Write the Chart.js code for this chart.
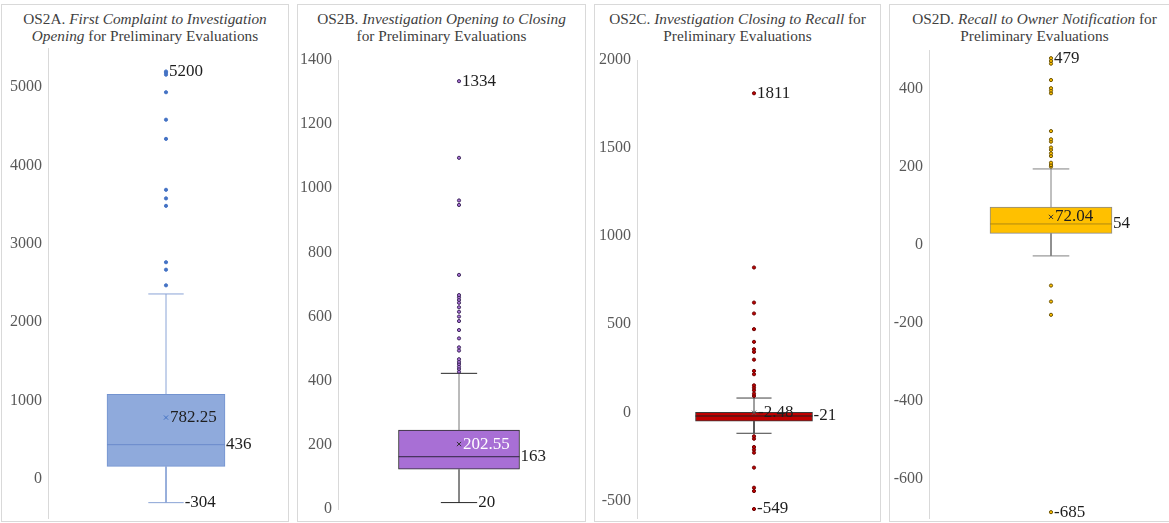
<!DOCTYPE html>
<html>
<head>
<meta charset="utf-8">
<script src="https://cdn.jsdelivr.net/npm/chart.js@4.4.1/dist/chart.umd.min.js"></script>
<style>
  html, body { margin: 0; padding: 0; background: #fff; width: 1169px; height: 523px; overflow: hidden; }
  .panel { position: absolute; top: 4px; height: 518px; border: 1px solid #d9d9d9; box-sizing: border-box; }
  .title { position: absolute; left: 0; right: 0; top: 5px; text-align: center; font: 15.3px "Liberation Serif", serif; line-height: 17px; color: #404040; white-space: nowrap; }
  canvas.plot { position: absolute; top: 0; }
</style>
</head>
<body>
<script>
// data, one slot per panel (A, B, C, D)
const panelTitles = [
  'OS2A. <i>First Complaint to Investigation</i><br><i>Opening</i> for Preliminary Evaluations',
  'OS2B. <i>Investigation Opening to Closing</i><br>for Preliminary Evaluations',
  'OS2C. <i>Investigation Closing to Recall</i> for<br>Preliminary Evaluations',
  'OS2D. <i>Recall to Owner Notification</i> for<br>Preliminary Evaluations'
];
const quartile1 = [160, 124, -50, 30];
const medians = [436, 163, -21, 54];
const quartile3 = [1080, 246, 0, 97];
const means = [782.25, 202.55, -2.48, 72.04];
const whiskerLow = [-304, 20, -119, -28];
const whiskerHigh = [2360, 423, 81, 195];

const outliersA = [2470, 2670, 2765, 3485, 3580, 3690, 4340, 4585, 4935, 5160, 5185, 5200];
const outliersB = [428, 437, 444, 452, 459, 467, 494, 504, 532, 558, 586, 600, 615, 629, 643, 652, 660, 667, 730, 948, 962, 1095, 1334];
const outliersC = [-549, -447, -428, -314, -229, -212, -197, -150, -136, 93, 106, 125, 140, 153, 216, 235, 299, 343, 358, 400, 472, 561, 623, 822, 1811];
const outliersD = [-685, -179, -145, -104, 201, 205, 211, 228, 235, 244, 250, 265, 271, 292, 389, 396, 402, 423, 465, 472, 479];
const outliers = [outliersA, outliersB, outliersC, outliersD];

const axisMin = [-500, 0, -600, -700];
const axisMax = [5500, 1400, 2000, 500];
const tickValues = [
  [0, 1000, 2000, 3000, 4000, 5000],
  [0, 200, 400, 600, 800, 1000, 1200, 1400],
  [-500, 0, 500, 1000, 1500, 2000],
  [-600, -400, -200, 0, 200, 400]
];

// looks
const boxFill = ['#8faadc', '#a86fd5', '#c00000', '#ffc000'];
const boxEdge = ['#7393cf', '#2b2b2b', '#3a3a3a', '#8a8a8a'];
const medianColor = ['#6a8acb', '#2e2440', '#1e1e1e', '#b08a10'];
const whiskerColor = ['#8aa4d6', '#777777', '#404040', '#808080'];
const capColor = ['#8aa4d6', '#262626', '#404040', '#808080'];
const dotFill = ['#4472c4', '#a86fd5', '#c00000', '#ffc000'];
const dotEdge = ['#4472c4', '#3f2a5c', '#6b0000', '#6b5200'];
const meanColor = ['#4472c4', '#333333', '#555555', '#333333'];
const meanText = ['#1e1e1e', '#ffffff', '#1e1e1e', '#1e1e1e'];

// geometry (page px)
const panelLeft = [1, 297, 594, 889];
const panelWidth = [288, 289, 287, 291];
const axisX = [48, 338, 637, 929];
const plotRight = [284, 580, 871, 1173];
const plotTop = [48, 60, 60, 50];
const plotBottom = [518, 509, 518, 518];

const labelPlugin = {
  id: 'boxLabels',
  afterDatasetsDraw(chart, args, opts) {
    const i = opts.index;
    const ctx = chart.ctx;
    const xs = chart.scales.x, ys = chart.scales.y;
    const cx = xs.getPixelForValue(0);
    const list = outliers[i];
    const top = Math.max(whiskerHigh[i], ...list);
    const bottom = Math.min(whiskerLow[i], ...list);
    ctx.save();
    ctx.font = '17px "Liberation Serif"';
    ctx.textBaseline = 'middle';
    ctx.textAlign = 'left';
    const put = (t, x, v, c) => { ctx.fillStyle = c; ctx.fillText(t, x, ys.getPixelForValue(v)); };
    put(String(top), top === whiskerHigh[i] ? xs.getPixelForValue(0.15) + 1 : cx + 3, top, '#1e1e1e');
    put(String(bottom), bottom === whiskerLow[i] ? xs.getPixelForValue(0.15) + 1 : cx + 3, bottom, '#1e1e1e');
    put(String(means[i]), cx + 4, means[i], meanText[i]);
    put(String(medians[i]), xs.getPixelForValue(0.5) + 1, medians[i], '#1e1e1e');
    ctx.restore();
  }
};

function segment(x0, y0, x1, y1, color, order) {
  return {
    type: 'line', order: order,
    data: [{x: x0, y: y0}, {x: x1, y: y1}],
    borderColor: color, borderWidth: 1, pointRadius: 0, fill: false
  };
}

for (let i = 0; i < 4; i++) {
  const panel = document.createElement('div');
  panel.className = 'panel';
  panel.style.left = panelLeft[i] + 'px';
  panel.style.width = panelWidth[i] + 'px';
  const title = document.createElement('div');
  title.className = 'title';
  title.innerHTML = panelTitles[i];
  panel.appendChild(title);
  document.body.appendChild(panel);

  const canvas = document.createElement('canvas');
  canvas.className = 'plot';
  canvas.width = panelWidth[i];
  canvas.height = 523;
  canvas.style.left = panelLeft[i] + 'px';
  document.body.appendChild(canvas);

  const axisW = axisX[i] - panelLeft[i];
  const boxWidth = (plotRight[i] - axisX[i]) / 2;
  new Chart(canvas, {
    type: 'bar',
    data: {
      datasets: [
        {
          type: 'bar', order: 6,
          data: [{x: 0, y: [quartile1[i], quartile3[i]]}],
          backgroundColor: boxFill[i], borderColor: boxEdge[i], borderWidth: 1, borderSkipped: false,
          barThickness: boxWidth
        },
        segment(0, quartile3[i], 0, whiskerHigh[i], whiskerColor[i], 5),
        segment(0, quartile1[i], 0, whiskerLow[i], whiskerColor[i], 5),
        segment(-0.15, whiskerHigh[i], 0.15, whiskerHigh[i], capColor[i], 4),
        segment(-0.15, whiskerLow[i], 0.15, whiskerLow[i], capColor[i], 4),
        segment(-0.5, medians[i], 0.5, medians[i], medianColor[i], 3),
        {
          type: 'scatter', order: 1,
          data: outliers[i].map(v => ({x: 0, y: v})),
          pointRadius: 1.6, pointBackgroundColor: dotFill[i], pointBorderColor: dotEdge[i], pointBorderWidth: 1
        },
        {
          type: 'scatter', order: 0,
          data: [{x: 0, y: means[i]}],
          pointStyle: 'crossRot', pointRadius: 3, pointBorderColor: meanColor[i], pointBorderWidth: 1
        }
      ]
    },
    options: {
      responsive: false,
      animation: false,
      devicePixelRatio: 1,
      layout: { padding: { top: plotTop[i], bottom: 523 - plotBottom[i], left: 0, right: panelLeft[i] + panelWidth[i] - plotRight[i] } },
      plugins: { legend: { display: false }, tooltip: { enabled: false }, boxLabels: { index: i } },
      scales: {
        x: { type: 'linear', display: false, min: -1, max: 1, offset: false, grid: { offset: false } },
        y: {
          type: 'linear', min: axisMin[i], max: axisMax[i],
          afterBuildTicks: s => { s.ticks = tickValues[i].map(v => ({ value: v })); },
          afterFit: s => { s.width = axisW; s.paddingTop = 0; s.paddingBottom = 0; },
          grid: { display: false, drawTicks: false },
          border: { display: true, color: '#d9d9d9', width: 1 },
          ticks: { color: '#595959', autoSkip: false, padding: 6, font: { family: 'Liberation Serif', size: 16 }, callback: v => String(v) }
        }
      }
    },
    plugins: [labelPlugin]
  });
}
</script>
</body>
</html>
